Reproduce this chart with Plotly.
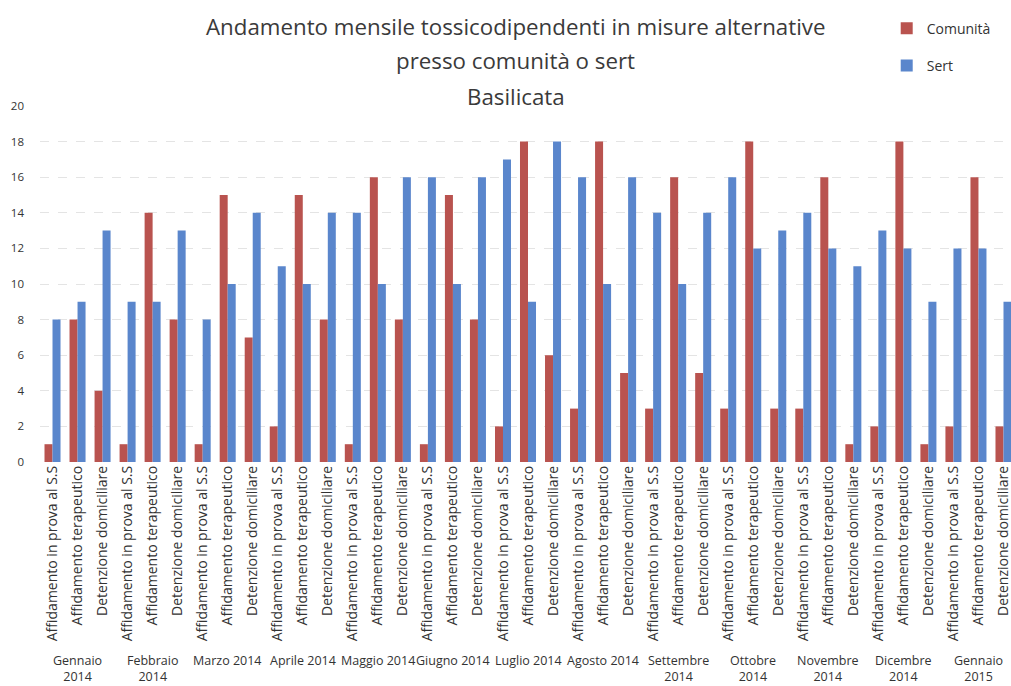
import plotly.graph_objects as go

months = ["Gennaio<br>2014", "Febbraio<br>2014", "Marzo 2014", "Aprile 2014", "Maggio 2014",
          "Giugno 2014", "Luglio 2014", "Agosto 2014", "Settembre<br>2014", "Ottobre<br>2014",
          "Novembre<br>2014", "Dicembre<br>2014", "Gennaio<br>2015"]
measures = ["Affidamento in prova al S.S", "Affidamento terapeutico", "Detenzione domiciliare"]
title_lines = ["Andamento mensile tossicodipendenti in misure alternative",
               "presso comunità o sert", "Basilicata"]

comunita = [1, 8, 4,  1, 14, 8,  1, 15, 7,  2, 15, 8,  1, 16, 8,  1, 15, 8,  2, 18, 6,
            3, 18, 5,  3, 16, 5,  3, 18, 3,  3, 16, 1,  2, 18, 1,  2, 16, 2]
sert = [8, 9, 13,  9, 9, 13,  8, 10, 14,  11, 10, 14,  14, 10, 16,  16, 10, 16,  17, 9, 18,
        16, 10, 16,  14, 10, 14,  16, 12, 13,  14, 12, 11,  13, 12, 9,  12, 12, 9]

n = len(months) * len(measures)
xpos = list(range(n))
ticktext = [measures[i % 3] for i in range(n)]

RED = "#b9534f"
BLUE = "#5a86cc"
FONT = "Open Sans"
TXT = "#333333"

fig = go.Figure()
fig.add_trace(go.Bar(x=xpos, y=comunita, name="Comunità", legendgroup="c",
                     marker=dict(color=RED, line=dict(width=0))))
fig.add_trace(go.Bar(x=xpos, y=sert, name="Sert", legendgroup="s",
                     marker=dict(color=BLUE, line=dict(width=0))))

for i, m in enumerate(months):
    fig.add_annotation(x=3 * i + 1, xref="x", y=0, yref="paper", yshift=-188,
                       text=m, showarrow=False, yanchor="top", align="center",
                       font=dict(family=FONT, size=12.5, color=TXT))

for line, shift in zip(title_lines, [80, 46, 10]):
    fig.add_annotation(x=0.49, xref="paper", y=1, yref="paper", yshift=shift,
                       text=line, showarrow=False, yanchor="middle", xanchor="center",
                       font=dict(family=FONT, size=22.3, color="#3a3a3a"))

fig.update_layout(
    width=1011, height=686,
    margin=dict(l=40, r=0, t=106, b=224),
    paper_bgcolor="white", plot_bgcolor="white",
    barmode="group", bargap=0.36, bargroupgap=0.0,
    font=dict(family=FONT, color=TXT),
    legend=dict(x=0.872, y=1.262, xanchor="left", yanchor="top", bgcolor="rgba(0,0,0,0)",
                font=dict(family=FONT, size=14, color=TXT), tracegroupgap=16,
                itemwidth=30),
    showlegend=True,
)
fig.update_xaxes(range=[-0.5, n - 0.7], tickmode="array", tickvals=xpos, ticktext=ticktext,
                 tickangle=-90, tickfont=dict(family=FONT, size=14, color=TXT),
                 ticklabeloverflow="allow",
                 showgrid=False, showline=False, ticks="", automargin=False)
fig.update_yaxes(range=[0, 20], dtick=2, showgrid=True, gridcolor="#e4e4e4", griddash="dash",
                 zeroline=False, tickfont=dict(family=FONT, size=11.5, color=TXT),
                 ticklabelstandoff=15, automargin=False)

fig.write_html("out.html", config={"displayModeBar": False},
               post_script="document.body.style.margin='0';")
